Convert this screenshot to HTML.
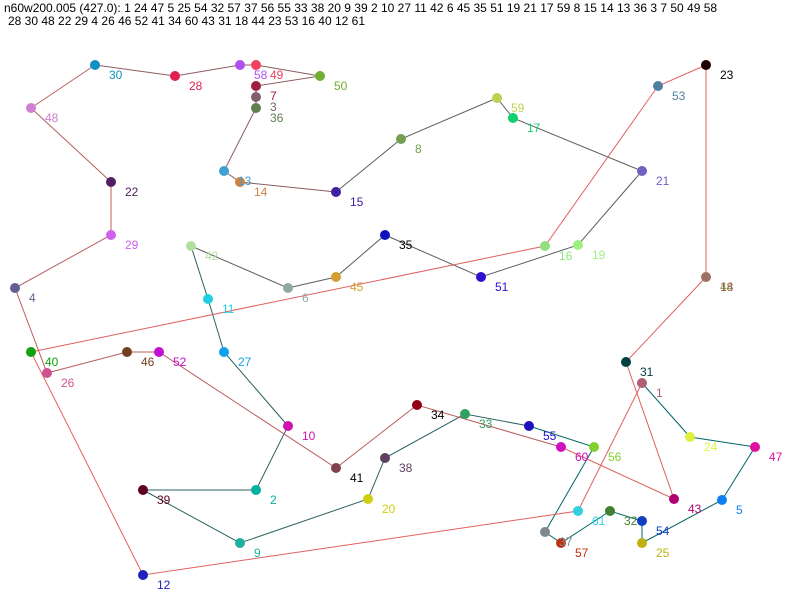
<!DOCTYPE html>
<html><head><meta charset="utf-8"><style>
html,body{margin:0;padding:0;background:#fff;}
svg{display:block;}
text{font-family:"Liberation Sans",sans-serif;font-size:12px;}
</style></head><body>
<svg width="800" height="600" xmlns="http://www.w3.org/2000/svg">
<rect width="800" height="600" fill="#fff"/>
<text x="4" y="12" fill="#000">n60w200.005 (427.0): 1 24 47 5 25 54 32 57 37 56 55 33 38 20 9 39 2 10 27 11 42 6 45 35 51 19 21 17 59 8 15 14 13 36 3 7 50 49 58</text>
<text x="8" y="25" fill="#000">28 30 48 22 29 4 26 46 52 41 34 60 43 31 18 44 23 53 16 40 12 61</text>
<g fill="none" stroke-width="1">
<polyline stroke="#006666" points="642,383 690,437 755,447 722,500 642,543 642,521 610,511 561,543 545,532 594,447 529,426"/>
<polyline stroke="#2e6262" points="529,426 465,414 385,458 368,499 240,543 143,490 256,490 288,426 224,352 208,299 191,246"/>
<polyline stroke="#5c5e5e" points="191,246 288,288 336,277 385,235 481,277 578,245 642,171 513,118 497,98 401,139 336,192"/>
<polyline stroke="#8a5e5e" points="336,192 240,182 224,171 256,108 256,97 256,86 320,76 256,65 240,65 175,76 95,65"/>
<polyline stroke="#b85e5e" points="95,65 31,108 111,182 111,235 15,288 47,373 127,352 159,352 336,468 417,405 561,447"/>
<polyline stroke="#e06060" points="561,447 674,499 626,362 706,277 706,277 706,65 658,86 545,246 31,352 143,575 578,511 642,383"/>
</g>
<g>
<circle cx="642" cy="383" r="5" fill="#b06070"/><text x="656" y="397" fill="#b06070">1</text>
<circle cx="690" cy="437" r="5" fill="#e0f040"/><text x="704" y="451" fill="#e0f040">24</text>
<circle cx="755" cy="447" r="5" fill="#e010a0"/><text x="769" y="461" fill="#e010a0">47</text>
<circle cx="722" cy="500" r="5" fill="#1080f0"/><text x="736" y="514" fill="#1080f0">5</text>
<circle cx="642" cy="543" r="5" fill="#c0b010"/><text x="656" y="557" fill="#c0b010">25</text>
<circle cx="642" cy="521" r="5" fill="#1040c0"/><text x="656" y="535" fill="#1040c0">54</text>
<circle cx="610" cy="511" r="5" fill="#408030"/><text x="624" y="525" fill="#408030">32</text>
<circle cx="561" cy="543" r="5" fill="#c03010"/><text x="575" y="557" fill="#c03010">57</text>
<circle cx="545" cy="532" r="5" fill="#808890"/><text x="559" y="546" fill="#808890">37</text>
<circle cx="594" cy="447" r="5" fill="#80d030"/><text x="608" y="461" fill="#80d030">56</text>
<circle cx="529" cy="426" r="5" fill="#2010c0"/><text x="543" y="440" fill="#2010c0">55</text>
<circle cx="465" cy="414" r="5" fill="#30a060"/><text x="479" y="428" fill="#30a060">33</text>
<circle cx="385" cy="458" r="5" fill="#604060"/><text x="399" y="472" fill="#604060">38</text>
<circle cx="368" cy="499" r="5" fill="#d0d010"/><text x="382" y="513" fill="#d0d010">20</text>
<circle cx="240" cy="543" r="5" fill="#20b0a0"/><text x="254" y="557" fill="#20b0a0">9</text>
<circle cx="143" cy="490" r="5" fill="#600020"/><text x="157" y="504" fill="#600020">39</text>
<circle cx="256" cy="490" r="5" fill="#00b0a0"/><text x="270" y="504" fill="#00b0a0">2</text>
<circle cx="288" cy="426" r="5" fill="#d010b0"/><text x="302" y="440" fill="#d010b0">10</text>
<circle cx="224" cy="352" r="5" fill="#10a0f0"/><text x="238" y="366" fill="#10a0f0">27</text>
<circle cx="208" cy="299" r="5" fill="#20d0e0"/><text x="222" y="313" fill="#20d0e0">11</text>
<circle cx="191" cy="246" r="5" fill="#b0e0a0"/><text x="205" y="260" fill="#b0e0a0">42</text>
<circle cx="288" cy="288" r="5" fill="#90a8a0"/><text x="302" y="302" fill="#90a8a0">6</text>
<circle cx="336" cy="277" r="5" fill="#d0a030"/><text x="350" y="291" fill="#d0a030">45</text>
<circle cx="385" cy="235" r="5" fill="#1010c0"/><text x="399" y="249" fill="#000">35</text>
<circle cx="481" cy="277" r="5" fill="#3010d0"/><text x="495" y="291" fill="#3010d0">51</text>
<circle cx="578" cy="245" r="5" fill="#a0f080"/><text x="592" y="259" fill="#a0f080">19</text>
<circle cx="642" cy="171" r="5" fill="#7060c0"/><text x="656" y="185" fill="#7060c0">21</text>
<circle cx="513" cy="118" r="5" fill="#10d070"/><text x="527" y="132" fill="#10d070">17</text>
<circle cx="497" cy="98" r="5" fill="#c0d050"/><text x="511" y="112" fill="#c0d050">59</text>
<circle cx="401" cy="139" r="5" fill="#70a050"/><text x="415" y="153" fill="#70a050">8</text>
<circle cx="336" cy="192" r="5" fill="#4020a0"/><text x="350" y="206" fill="#4020a0">15</text>
<circle cx="240" cy="182" r="5" fill="#d08040"/><text x="254" y="196" fill="#d08040">14</text>
<circle cx="224" cy="171" r="5" fill="#40a0d0"/><text x="238" y="185" fill="#40a0d0">13</text>
<circle cx="256" cy="108" r="5" fill="#608050"/><text x="270" y="122" fill="#608050">36</text>
<circle cx="256" cy="97" r="5" fill="#806070"/><text x="270" y="111" fill="#806070">3</text>
<circle cx="256" cy="86" r="5" fill="#a02040"/><text x="270" y="100" fill="#a02040">7</text>
<circle cx="320" cy="76" r="5" fill="#70b030"/><text x="334" y="90" fill="#70b030">50</text>
<circle cx="256" cy="65" r="5" fill="#f04060"/><text x="270" y="79" fill="#f04060">49</text>
<circle cx="240" cy="65" r="5" fill="#b050f0"/><text x="254" y="79" fill="#b050f0">58</text>
<circle cx="175" cy="76" r="5" fill="#e02050"/><text x="189" y="90" fill="#e02050">28</text>
<circle cx="95" cy="65" r="5" fill="#1090c0"/><text x="109" y="79" fill="#1090c0">30</text>
<circle cx="31" cy="108" r="5" fill="#d080d0"/><text x="45" y="122" fill="#d080d0">48</text>
<circle cx="111" cy="182" r="5" fill="#502060"/><text x="125" y="196" fill="#502060">22</text>
<circle cx="111" cy="235" r="5" fill="#d060f0"/><text x="125" y="249" fill="#d060f0">29</text>
<circle cx="15" cy="288" r="5" fill="#606090"/><text x="29" y="302" fill="#606090">4</text>
<circle cx="47" cy="373" r="5" fill="#d05090"/><text x="61" y="387" fill="#d05090">26</text>
<circle cx="127" cy="352" r="5" fill="#704020"/><text x="141" y="366" fill="#704020">46</text>
<circle cx="159" cy="352" r="5" fill="#c010d0"/><text x="173" y="366" fill="#c010d0">52</text>
<circle cx="336" cy="468" r="5" fill="#804050"/><text x="350" y="482" fill="#000">41</text>
<circle cx="417" cy="405" r="5" fill="#900010"/><text x="431" y="419" fill="#000">34</text>
<circle cx="561" cy="447" r="5" fill="#d010c0"/><text x="575" y="461" fill="#d010c0">60</text>
<circle cx="674" cy="499" r="5" fill="#b00070"/><text x="688" y="513" fill="#b00070">43</text>
<circle cx="626" cy="362" r="5" fill="#004040"/><text x="640" y="376" fill="#004040">31</text>
<circle cx="706" cy="277" r="5" fill="#a07060"/><text x="720" y="291" fill="#80a050">44</text><text x="720" y="291" fill="#a06050">18</text>
<circle cx="706" cy="65" r="5" fill="#200000"/><text x="720" y="79" fill="#000">23</text>
<circle cx="658" cy="86" r="5" fill="#5080a0"/><text x="672" y="100" fill="#5080a0">53</text>
<circle cx="545" cy="246" r="5" fill="#90e080"/><text x="559" y="260" fill="#90e080">16</text>
<circle cx="31" cy="352" r="5" fill="#10a010"/><text x="45" y="366" fill="#10a010">40</text>
<circle cx="143" cy="575" r="5" fill="#2020c0"/><text x="157" y="589" fill="#2020c0">12</text>
<circle cx="578" cy="511" r="5" fill="#30d0e0"/><text x="592" y="525" fill="#30d0e0">61</text>
</g>
</svg>
</body></html>
